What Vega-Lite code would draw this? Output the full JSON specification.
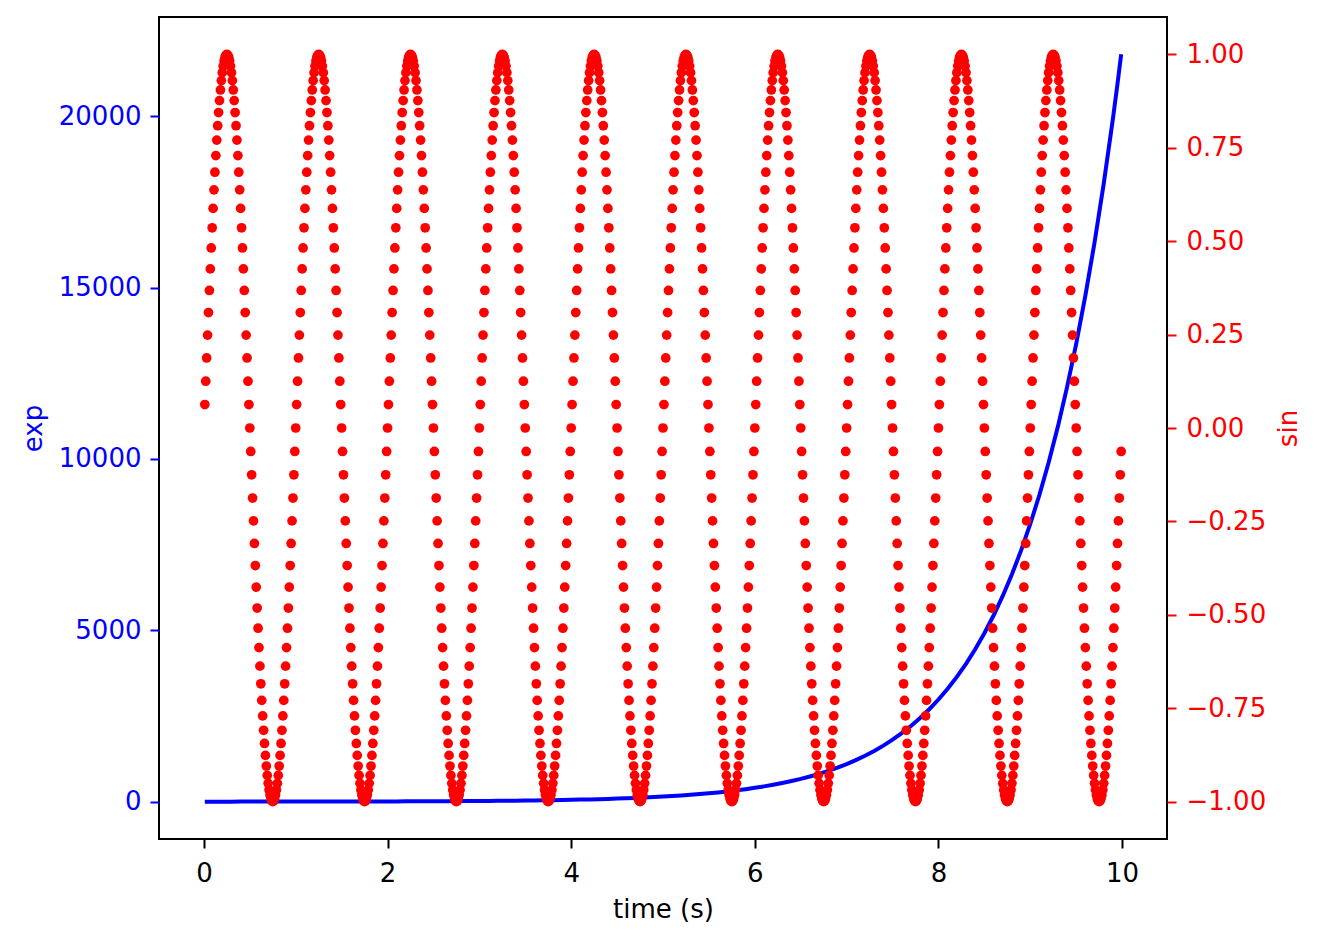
{
"$schema": "https://vega.github.io/schema/vega-lite/v6.json",
"width": 1008,
"height": 822,
"autosize": {"type": "none"},
"padding": {"left": 159, "top": 17, "right": 156, "bottom": 101},
"background": "white",
"config": {
"font": "DejaVu Sans",
"view": {"stroke": "black", "strokeWidth": 2},
"axis": {"grid": false, "domain": false, "labelFontSize": 26, "titleFontSize": 26, "titleFontWeight": "normal", "tickSize": 9, "tickWidth": 2, "labelFont": "DejaVu Sans", "titleFont": "DejaVu Sans"}
},
"datasets": {
"expdata": [
{"t":0.01,"e":1.01},{"t":0.1,"e":1.11},{"t":0.2,"e":1.22},{"t":0.3,"e":1.35},{"t":0.4,"e":1.49},{"t":0.5,"e":1.65},{"t":0.6,"e":1.82},{"t":0.7,"e":2.01},{"t":0.8,"e":2.23},{"t":0.9,"e":2.46},
{"t":1.0,"e":2.72},{"t":1.1,"e":3.00},{"t":1.2,"e":3.32},{"t":1.3,"e":3.67},{"t":1.4,"e":4.06},{"t":1.5,"e":4.48},{"t":1.6,"e":4.95},{"t":1.7,"e":5.47},{"t":1.8,"e":6.05},{"t":1.9,"e":6.69},
{"t":2.0,"e":7.39},{"t":2.1,"e":8.17},{"t":2.2,"e":9.03},{"t":2.3,"e":9.97},{"t":2.4,"e":11.02},{"t":2.5,"e":12.18},{"t":2.6,"e":13.46},{"t":2.7,"e":14.88},{"t":2.8,"e":16.44},{"t":2.9,"e":18.17},
{"t":3.0,"e":20.09},{"t":3.1,"e":22.20},{"t":3.2,"e":24.53},{"t":3.3,"e":27.11},{"t":3.4,"e":29.96},{"t":3.5,"e":33.12},{"t":3.6,"e":36.60},{"t":3.7,"e":40.45},{"t":3.8,"e":44.70},{"t":3.9,"e":49.40},
{"t":4.0,"e":54.60},{"t":4.1,"e":60.34},{"t":4.2,"e":66.69},{"t":4.3,"e":73.70},{"t":4.4,"e":81.45},{"t":4.5,"e":90.02},{"t":4.6,"e":99.48},{"t":4.7,"e":109.95},{"t":4.8,"e":121.51},{"t":4.9,"e":134.29},
{"t":5.0,"e":148.41},{"t":5.1,"e":164.02},{"t":5.2,"e":181.27},{"t":5.3,"e":200.34},{"t":5.4,"e":221.41},{"t":5.5,"e":244.69},{"t":5.6,"e":270.43},{"t":5.7,"e":298.87},{"t":5.8,"e":330.30},{"t":5.9,"e":365.04},
{"t":6.0,"e":403.43},{"t":6.1,"e":445.86},{"t":6.2,"e":492.75},{"t":6.3,"e":544.57},{"t":6.4,"e":601.85},{"t":6.5,"e":665.14},{"t":6.6,"e":735.10},{"t":6.7,"e":812.41},{"t":6.8,"e":897.85},{"t":6.9,"e":992.27},
{"t":7.0,"e":1096.63},{"t":7.1,"e":1211.97},{"t":7.2,"e":1339.43},{"t":7.3,"e":1480.30},{"t":7.4,"e":1635.98},{"t":7.5,"e":1808.04},{"t":7.6,"e":1998.20},{"t":7.7,"e":2208.35},{"t":7.8,"e":2440.60},{"t":7.9,"e":2697.28},
{"t":8.0,"e":2980.96},{"t":8.1,"e":3294.47},{"t":8.2,"e":3640.95},{"t":8.3,"e":4023.87},{"t":8.4,"e":4447.07},{"t":8.5,"e":4914.77},{"t":8.6,"e":5431.66},{"t":8.7,"e":6002.91},{"t":8.8,"e":6634.24},{"t":8.9,"e":7331.97},
{"t":9.0,"e":8103.08},{"t":9.1,"e":8955.29},{"t":9.2,"e":9897.13},{"t":9.3,"e":10938.02},{"t":9.4,"e":12088.38},{"t":9.5,"e":13359.73},{"t":9.6,"e":14764.78},{"t":9.7,"e":16317.61},{"t":9.8,"e":18033.74},{"t":9.9,"e":19930.37},{"t":9.95,"e":20952.2},{"t":9.99,"e":21807.3}
],
"sindata": [
{"t":0.01,"s":0.0628},{"t":0.02,"s":0.1253},{"t":0.03,"s":0.1874},{"t":0.04,"s":0.2487},{"t":0.05,"s":0.309},{"t":0.06,"s":0.3681},{"t":0.07,"s":0.4258},{"t":0.08,"s":0.4818},{"t":0.09,"s":0.5358},{"t":0.10,"s":0.5878},{"t":0.11,"s":0.6374},{"t":0.12,"s":0.6845},{"t":0.13,"s":0.729},{"t":0.14,"s":0.7705},{"t":0.15,"s":0.809},{"t":0.16,"s":0.8443},{"t":0.17,"s":0.8763},{"t":0.18,"s":0.9048},{"t":0.19,"s":0.9298},{"t":0.20,"s":0.9511},{"t":0.21,"s":0.9686},{"t":0.22,"s":0.9823},{"t":0.23,"s":0.9921},{"t":0.24,"s":0.998},{"t":0.25,"s":1},{"t":0.26,"s":0.998},{"t":0.27,"s":0.9921},{"t":0.28,"s":0.9823},{"t":0.29,"s":0.9686},{"t":0.30,"s":0.9511},{"t":0.31,"s":0.9298},{"t":0.32,"s":0.9048},{"t":0.33,"s":0.8763},{"t":0.34,"s":0.8443},{"t":0.35,"s":0.809},{"t":0.36,"s":0.7705},{"t":0.37,"s":0.729},{"t":0.38,"s":0.6845},{"t":0.39,"s":0.6374},{"t":0.40,"s":0.5878},{"t":0.41,"s":0.5358},{"t":0.42,"s":0.4818},{"t":0.43,"s":0.4258},{"t":0.44,"s":0.3681},{"t":0.45,"s":0.309},{"t":0.46,"s":0.2487},{"t":0.47,"s":0.1874},{"t":0.48,"s":0.1253},{"t":0.49,"s":0.0628},{"t":0.50,"s":0},{"t":0.51,"s":-0.0628},{"t":0.52,"s":-0.1253},{"t":0.53,"s":-0.1874},{"t":0.54,"s":-0.2487},{"t":0.55,"s":-0.309},{"t":0.56,"s":-0.3681},{"t":0.57,"s":-0.4258},{"t":0.58,"s":-0.4818},{"t":0.59,"s":-0.5358},{"t":0.60,"s":-0.5878},{"t":0.61,"s":-0.6374},{"t":0.62,"s":-0.6845},{"t":0.63,"s":-0.729},{"t":0.64,"s":-0.7705},{"t":0.65,"s":-0.809},{"t":0.66,"s":-0.8443},{"t":0.67,"s":-0.8763},{"t":0.68,"s":-0.9048},{"t":0.69,"s":-0.9298},{"t":0.70,"s":-0.9511},{"t":0.71,"s":-0.9686},{"t":0.72,"s":-0.9823},{"t":0.73,"s":-0.9921},{"t":0.74,"s":-0.998},{"t":0.75,"s":-1},{"t":0.76,"s":-0.998},{"t":0.77,"s":-0.9921},{"t":0.78,"s":-0.9823},{"t":0.79,"s":-0.9686},{"t":0.80,"s":-0.9511},{"t":0.81,"s":-0.9298},{"t":0.82,"s":-0.9048},{"t":0.83,"s":-0.8763},{"t":0.84,"s":-0.8443},{"t":0.85,"s":-0.809},{"t":0.86,"s":-0.7705},{"t":0.87,"s":-0.729},{"t":0.88,"s":-0.6845},{"t":0.89,"s":-0.6374},{"t":0.90,"s":-0.5878},{"t":0.91,"s":-0.5358},{"t":0.92,"s":-0.4818},{"t":0.93,"s":-0.4258},{"t":0.94,"s":-0.3681},{"t":0.95,"s":-0.309},{"t":0.96,"s":-0.2487},{"t":0.97,"s":-0.1874},{"t":0.98,"s":-0.1253},{"t":0.99,"s":-0.0628},
{"t":1.00,"s":0},{"t":1.01,"s":0.0628},{"t":1.02,"s":0.1253},{"t":1.03,"s":0.1874},{"t":1.04,"s":0.2487},{"t":1.05,"s":0.309},{"t":1.06,"s":0.3681},{"t":1.07,"s":0.4258},{"t":1.08,"s":0.4818},{"t":1.09,"s":0.5358},{"t":1.10,"s":0.5878},{"t":1.11,"s":0.6374},{"t":1.12,"s":0.6845},{"t":1.13,"s":0.729},{"t":1.14,"s":0.7705},{"t":1.15,"s":0.809},{"t":1.16,"s":0.8443},{"t":1.17,"s":0.8763},{"t":1.18,"s":0.9048},{"t":1.19,"s":0.9298},{"t":1.20,"s":0.9511},{"t":1.21,"s":0.9686},{"t":1.22,"s":0.9823},{"t":1.23,"s":0.9921},{"t":1.24,"s":0.998},{"t":1.25,"s":1},{"t":1.26,"s":0.998},{"t":1.27,"s":0.9921},{"t":1.28,"s":0.9823},{"t":1.29,"s":0.9686},{"t":1.30,"s":0.9511},{"t":1.31,"s":0.9298},{"t":1.32,"s":0.9048},{"t":1.33,"s":0.8763},{"t":1.34,"s":0.8443},{"t":1.35,"s":0.809},{"t":1.36,"s":0.7705},{"t":1.37,"s":0.729},{"t":1.38,"s":0.6845},{"t":1.39,"s":0.6374},{"t":1.40,"s":0.5878},{"t":1.41,"s":0.5358},{"t":1.42,"s":0.4818},{"t":1.43,"s":0.4258},{"t":1.44,"s":0.3681},{"t":1.45,"s":0.309},{"t":1.46,"s":0.2487},{"t":1.47,"s":0.1874},{"t":1.48,"s":0.1253},{"t":1.49,"s":0.0628},{"t":1.50,"s":0},{"t":1.51,"s":-0.0628},{"t":1.52,"s":-0.1253},{"t":1.53,"s":-0.1874},{"t":1.54,"s":-0.2487},{"t":1.55,"s":-0.309},{"t":1.56,"s":-0.3681},{"t":1.57,"s":-0.4258},{"t":1.58,"s":-0.4818},{"t":1.59,"s":-0.5358},{"t":1.60,"s":-0.5878},{"t":1.61,"s":-0.6374},{"t":1.62,"s":-0.6845},{"t":1.63,"s":-0.729},{"t":1.64,"s":-0.7705},{"t":1.65,"s":-0.809},{"t":1.66,"s":-0.8443},{"t":1.67,"s":-0.8763},{"t":1.68,"s":-0.9048},{"t":1.69,"s":-0.9298},{"t":1.70,"s":-0.9511},{"t":1.71,"s":-0.9686},{"t":1.72,"s":-0.9823},{"t":1.73,"s":-0.9921},{"t":1.74,"s":-0.998},{"t":1.75,"s":-1},{"t":1.76,"s":-0.998},{"t":1.77,"s":-0.9921},{"t":1.78,"s":-0.9823},{"t":1.79,"s":-0.9686},{"t":1.80,"s":-0.9511},{"t":1.81,"s":-0.9298},{"t":1.82,"s":-0.9048},{"t":1.83,"s":-0.8763},{"t":1.84,"s":-0.8443},{"t":1.85,"s":-0.809},{"t":1.86,"s":-0.7705},{"t":1.87,"s":-0.729},{"t":1.88,"s":-0.6845},{"t":1.89,"s":-0.6374},{"t":1.90,"s":-0.5878},{"t":1.91,"s":-0.5358},{"t":1.92,"s":-0.4818},{"t":1.93,"s":-0.4258},{"t":1.94,"s":-0.3681},{"t":1.95,"s":-0.309},{"t":1.96,"s":-0.2487},{"t":1.97,"s":-0.1874},{"t":1.98,"s":-0.1253},{"t":1.99,"s":-0.0628},
{"t":2.00,"s":0},{"t":2.01,"s":0.0628},{"t":2.02,"s":0.1253},{"t":2.03,"s":0.1874},{"t":2.04,"s":0.2487},{"t":2.05,"s":0.309},{"t":2.06,"s":0.3681},{"t":2.07,"s":0.4258},{"t":2.08,"s":0.4818},{"t":2.09,"s":0.5358},{"t":2.10,"s":0.5878},{"t":2.11,"s":0.6374},{"t":2.12,"s":0.6845},{"t":2.13,"s":0.729},{"t":2.14,"s":0.7705},{"t":2.15,"s":0.809},{"t":2.16,"s":0.8443},{"t":2.17,"s":0.8763},{"t":2.18,"s":0.9048},{"t":2.19,"s":0.9298},{"t":2.20,"s":0.9511},{"t":2.21,"s":0.9686},{"t":2.22,"s":0.9823},{"t":2.23,"s":0.9921},{"t":2.24,"s":0.998},{"t":2.25,"s":1},{"t":2.26,"s":0.998},{"t":2.27,"s":0.9921},{"t":2.28,"s":0.9823},{"t":2.29,"s":0.9686},{"t":2.30,"s":0.9511},{"t":2.31,"s":0.9298},{"t":2.32,"s":0.9048},{"t":2.33,"s":0.8763},{"t":2.34,"s":0.8443},{"t":2.35,"s":0.809},{"t":2.36,"s":0.7705},{"t":2.37,"s":0.729},{"t":2.38,"s":0.6845},{"t":2.39,"s":0.6374},{"t":2.40,"s":0.5878},{"t":2.41,"s":0.5358},{"t":2.42,"s":0.4818},{"t":2.43,"s":0.4258},{"t":2.44,"s":0.3681},{"t":2.45,"s":0.309},{"t":2.46,"s":0.2487},{"t":2.47,"s":0.1874},{"t":2.48,"s":0.1253},{"t":2.49,"s":0.0628},{"t":2.50,"s":0},{"t":2.51,"s":-0.0628},{"t":2.52,"s":-0.1253},{"t":2.53,"s":-0.1874},{"t":2.54,"s":-0.2487},{"t":2.55,"s":-0.309},{"t":2.56,"s":-0.3681},{"t":2.57,"s":-0.4258},{"t":2.58,"s":-0.4818},{"t":2.59,"s":-0.5358},{"t":2.60,"s":-0.5878},{"t":2.61,"s":-0.6374},{"t":2.62,"s":-0.6845},{"t":2.63,"s":-0.729},{"t":2.64,"s":-0.7705},{"t":2.65,"s":-0.809},{"t":2.66,"s":-0.8443},{"t":2.67,"s":-0.8763},{"t":2.68,"s":-0.9048},{"t":2.69,"s":-0.9298},{"t":2.70,"s":-0.9511},{"t":2.71,"s":-0.9686},{"t":2.72,"s":-0.9823},{"t":2.73,"s":-0.9921},{"t":2.74,"s":-0.998},{"t":2.75,"s":-1},{"t":2.76,"s":-0.998},{"t":2.77,"s":-0.9921},{"t":2.78,"s":-0.9823},{"t":2.79,"s":-0.9686},{"t":2.80,"s":-0.9511},{"t":2.81,"s":-0.9298},{"t":2.82,"s":-0.9048},{"t":2.83,"s":-0.8763},{"t":2.84,"s":-0.8443},{"t":2.85,"s":-0.809},{"t":2.86,"s":-0.7705},{"t":2.87,"s":-0.729},{"t":2.88,"s":-0.6845},{"t":2.89,"s":-0.6374},{"t":2.90,"s":-0.5878},{"t":2.91,"s":-0.5358},{"t":2.92,"s":-0.4818},{"t":2.93,"s":-0.4258},{"t":2.94,"s":-0.3681},{"t":2.95,"s":-0.309},{"t":2.96,"s":-0.2487},{"t":2.97,"s":-0.1874},{"t":2.98,"s":-0.1253},{"t":2.99,"s":-0.0628},
{"t":3.00,"s":0},{"t":3.01,"s":0.0628},{"t":3.02,"s":0.1253},{"t":3.03,"s":0.1874},{"t":3.04,"s":0.2487},{"t":3.05,"s":0.309},{"t":3.06,"s":0.3681},{"t":3.07,"s":0.4258},{"t":3.08,"s":0.4818},{"t":3.09,"s":0.5358},{"t":3.10,"s":0.5878},{"t":3.11,"s":0.6374},{"t":3.12,"s":0.6845},{"t":3.13,"s":0.729},{"t":3.14,"s":0.7705},{"t":3.15,"s":0.809},{"t":3.16,"s":0.8443},{"t":3.17,"s":0.8763},{"t":3.18,"s":0.9048},{"t":3.19,"s":0.9298},{"t":3.20,"s":0.9511},{"t":3.21,"s":0.9686},{"t":3.22,"s":0.9823},{"t":3.23,"s":0.9921},{"t":3.24,"s":0.998},{"t":3.25,"s":1},{"t":3.26,"s":0.998},{"t":3.27,"s":0.9921},{"t":3.28,"s":0.9823},{"t":3.29,"s":0.9686},{"t":3.30,"s":0.9511},{"t":3.31,"s":0.9298},{"t":3.32,"s":0.9048},{"t":3.33,"s":0.8763},{"t":3.34,"s":0.8443},{"t":3.35,"s":0.809},{"t":3.36,"s":0.7705},{"t":3.37,"s":0.729},{"t":3.38,"s":0.6845},{"t":3.39,"s":0.6374},{"t":3.40,"s":0.5878},{"t":3.41,"s":0.5358},{"t":3.42,"s":0.4818},{"t":3.43,"s":0.4258},{"t":3.44,"s":0.3681},{"t":3.45,"s":0.309},{"t":3.46,"s":0.2487},{"t":3.47,"s":0.1874},{"t":3.48,"s":0.1253},{"t":3.49,"s":0.0628},{"t":3.50,"s":0},{"t":3.51,"s":-0.0628},{"t":3.52,"s":-0.1253},{"t":3.53,"s":-0.1874},{"t":3.54,"s":-0.2487},{"t":3.55,"s":-0.309},{"t":3.56,"s":-0.3681},{"t":3.57,"s":-0.4258},{"t":3.58,"s":-0.4818},{"t":3.59,"s":-0.5358},{"t":3.60,"s":-0.5878},{"t":3.61,"s":-0.6374},{"t":3.62,"s":-0.6845},{"t":3.63,"s":-0.729},{"t":3.64,"s":-0.7705},{"t":3.65,"s":-0.809},{"t":3.66,"s":-0.8443},{"t":3.67,"s":-0.8763},{"t":3.68,"s":-0.9048},{"t":3.69,"s":-0.9298},{"t":3.70,"s":-0.9511},{"t":3.71,"s":-0.9686},{"t":3.72,"s":-0.9823},{"t":3.73,"s":-0.9921},{"t":3.74,"s":-0.998},{"t":3.75,"s":-1},{"t":3.76,"s":-0.998},{"t":3.77,"s":-0.9921},{"t":3.78,"s":-0.9823},{"t":3.79,"s":-0.9686},{"t":3.80,"s":-0.9511},{"t":3.81,"s":-0.9298},{"t":3.82,"s":-0.9048},{"t":3.83,"s":-0.8763},{"t":3.84,"s":-0.8443},{"t":3.85,"s":-0.809},{"t":3.86,"s":-0.7705},{"t":3.87,"s":-0.729},{"t":3.88,"s":-0.6845},{"t":3.89,"s":-0.6374},{"t":3.90,"s":-0.5878},{"t":3.91,"s":-0.5358},{"t":3.92,"s":-0.4818},{"t":3.93,"s":-0.4258},{"t":3.94,"s":-0.3681},{"t":3.95,"s":-0.309},{"t":3.96,"s":-0.2487},{"t":3.97,"s":-0.1874},{"t":3.98,"s":-0.1253},{"t":3.99,"s":-0.0628},
{"t":4.00,"s":0},{"t":4.01,"s":0.0628},{"t":4.02,"s":0.1253},{"t":4.03,"s":0.1874},{"t":4.04,"s":0.2487},{"t":4.05,"s":0.309},{"t":4.06,"s":0.3681},{"t":4.07,"s":0.4258},{"t":4.08,"s":0.4818},{"t":4.09,"s":0.5358},{"t":4.10,"s":0.5878},{"t":4.11,"s":0.6374},{"t":4.12,"s":0.6845},{"t":4.13,"s":0.729},{"t":4.14,"s":0.7705},{"t":4.15,"s":0.809},{"t":4.16,"s":0.8443},{"t":4.17,"s":0.8763},{"t":4.18,"s":0.9048},{"t":4.19,"s":0.9298},{"t":4.20,"s":0.9511},{"t":4.21,"s":0.9686},{"t":4.22,"s":0.9823},{"t":4.23,"s":0.9921},{"t":4.24,"s":0.998},{"t":4.25,"s":1},{"t":4.26,"s":0.998},{"t":4.27,"s":0.9921},{"t":4.28,"s":0.9823},{"t":4.29,"s":0.9686},{"t":4.30,"s":0.9511},{"t":4.31,"s":0.9298},{"t":4.32,"s":0.9048},{"t":4.33,"s":0.8763},{"t":4.34,"s":0.8443},{"t":4.35,"s":0.809},{"t":4.36,"s":0.7705},{"t":4.37,"s":0.729},{"t":4.38,"s":0.6845},{"t":4.39,"s":0.6374},{"t":4.40,"s":0.5878},{"t":4.41,"s":0.5358},{"t":4.42,"s":0.4818},{"t":4.43,"s":0.4258},{"t":4.44,"s":0.3681},{"t":4.45,"s":0.309},{"t":4.46,"s":0.2487},{"t":4.47,"s":0.1874},{"t":4.48,"s":0.1253},{"t":4.49,"s":0.0628},{"t":4.50,"s":0},{"t":4.51,"s":-0.0628},{"t":4.52,"s":-0.1253},{"t":4.53,"s":-0.1874},{"t":4.54,"s":-0.2487},{"t":4.55,"s":-0.309},{"t":4.56,"s":-0.3681},{"t":4.57,"s":-0.4258},{"t":4.58,"s":-0.4818},{"t":4.59,"s":-0.5358},{"t":4.60,"s":-0.5878},{"t":4.61,"s":-0.6374},{"t":4.62,"s":-0.6845},{"t":4.63,"s":-0.729},{"t":4.64,"s":-0.7705},{"t":4.65,"s":-0.809},{"t":4.66,"s":-0.8443},{"t":4.67,"s":-0.8763},{"t":4.68,"s":-0.9048},{"t":4.69,"s":-0.9298},{"t":4.70,"s":-0.9511},{"t":4.71,"s":-0.9686},{"t":4.72,"s":-0.9823},{"t":4.73,"s":-0.9921},{"t":4.74,"s":-0.998},{"t":4.75,"s":-1},{"t":4.76,"s":-0.998},{"t":4.77,"s":-0.9921},{"t":4.78,"s":-0.9823},{"t":4.79,"s":-0.9686},{"t":4.80,"s":-0.9511},{"t":4.81,"s":-0.9298},{"t":4.82,"s":-0.9048},{"t":4.83,"s":-0.8763},{"t":4.84,"s":-0.8443},{"t":4.85,"s":-0.809},{"t":4.86,"s":-0.7705},{"t":4.87,"s":-0.729},{"t":4.88,"s":-0.6845},{"t":4.89,"s":-0.6374},{"t":4.90,"s":-0.5878},{"t":4.91,"s":-0.5358},{"t":4.92,"s":-0.4818},{"t":4.93,"s":-0.4258},{"t":4.94,"s":-0.3681},{"t":4.95,"s":-0.309},{"t":4.96,"s":-0.2487},{"t":4.97,"s":-0.1874},{"t":4.98,"s":-0.1253},{"t":4.99,"s":-0.0628},
{"t":5.00,"s":0},{"t":5.01,"s":0.0628},{"t":5.02,"s":0.1253},{"t":5.03,"s":0.1874},{"t":5.04,"s":0.2487},{"t":5.05,"s":0.309},{"t":5.06,"s":0.3681},{"t":5.07,"s":0.4258},{"t":5.08,"s":0.4818},{"t":5.09,"s":0.5358},{"t":5.10,"s":0.5878},{"t":5.11,"s":0.6374},{"t":5.12,"s":0.6845},{"t":5.13,"s":0.729},{"t":5.14,"s":0.7705},{"t":5.15,"s":0.809},{"t":5.16,"s":0.8443},{"t":5.17,"s":0.8763},{"t":5.18,"s":0.9048},{"t":5.19,"s":0.9298},{"t":5.20,"s":0.9511},{"t":5.21,"s":0.9686},{"t":5.22,"s":0.9823},{"t":5.23,"s":0.9921},{"t":5.24,"s":0.998},{"t":5.25,"s":1},{"t":5.26,"s":0.998},{"t":5.27,"s":0.9921},{"t":5.28,"s":0.9823},{"t":5.29,"s":0.9686},{"t":5.30,"s":0.9511},{"t":5.31,"s":0.9298},{"t":5.32,"s":0.9048},{"t":5.33,"s":0.8763},{"t":5.34,"s":0.8443},{"t":5.35,"s":0.809},{"t":5.36,"s":0.7705},{"t":5.37,"s":0.729},{"t":5.38,"s":0.6845},{"t":5.39,"s":0.6374},{"t":5.40,"s":0.5878},{"t":5.41,"s":0.5358},{"t":5.42,"s":0.4818},{"t":5.43,"s":0.4258},{"t":5.44,"s":0.3681},{"t":5.45,"s":0.309},{"t":5.46,"s":0.2487},{"t":5.47,"s":0.1874},{"t":5.48,"s":0.1253},{"t":5.49,"s":0.0628},{"t":5.50,"s":0},{"t":5.51,"s":-0.0628},{"t":5.52,"s":-0.1253},{"t":5.53,"s":-0.1874},{"t":5.54,"s":-0.2487},{"t":5.55,"s":-0.309},{"t":5.56,"s":-0.3681},{"t":5.57,"s":-0.4258},{"t":5.58,"s":-0.4818},{"t":5.59,"s":-0.5358},{"t":5.60,"s":-0.5878},{"t":5.61,"s":-0.6374},{"t":5.62,"s":-0.6845},{"t":5.63,"s":-0.729},{"t":5.64,"s":-0.7705},{"t":5.65,"s":-0.809},{"t":5.66,"s":-0.8443},{"t":5.67,"s":-0.8763},{"t":5.68,"s":-0.9048},{"t":5.69,"s":-0.9298},{"t":5.70,"s":-0.9511},{"t":5.71,"s":-0.9686},{"t":5.72,"s":-0.9823},{"t":5.73,"s":-0.9921},{"t":5.74,"s":-0.998},{"t":5.75,"s":-1},{"t":5.76,"s":-0.998},{"t":5.77,"s":-0.9921},{"t":5.78,"s":-0.9823},{"t":5.79,"s":-0.9686},{"t":5.80,"s":-0.9511},{"t":5.81,"s":-0.9298},{"t":5.82,"s":-0.9048},{"t":5.83,"s":-0.8763},{"t":5.84,"s":-0.8443},{"t":5.85,"s":-0.809},{"t":5.86,"s":-0.7705},{"t":5.87,"s":-0.729},{"t":5.88,"s":-0.6845},{"t":5.89,"s":-0.6374},{"t":5.90,"s":-0.5878},{"t":5.91,"s":-0.5358},{"t":5.92,"s":-0.4818},{"t":5.93,"s":-0.4258},{"t":5.94,"s":-0.3681},{"t":5.95,"s":-0.309},{"t":5.96,"s":-0.2487},{"t":5.97,"s":-0.1874},{"t":5.98,"s":-0.1253},{"t":5.99,"s":-0.0628},
{"t":6.00,"s":0},{"t":6.01,"s":0.0628},{"t":6.02,"s":0.1253},{"t":6.03,"s":0.1874},{"t":6.04,"s":0.2487},{"t":6.05,"s":0.309},{"t":6.06,"s":0.3681},{"t":6.07,"s":0.4258},{"t":6.08,"s":0.4818},{"t":6.09,"s":0.5358},{"t":6.10,"s":0.5878},{"t":6.11,"s":0.6374},{"t":6.12,"s":0.6845},{"t":6.13,"s":0.729},{"t":6.14,"s":0.7705},{"t":6.15,"s":0.809},{"t":6.16,"s":0.8443},{"t":6.17,"s":0.8763},{"t":6.18,"s":0.9048},{"t":6.19,"s":0.9298},{"t":6.20,"s":0.9511},{"t":6.21,"s":0.9686},{"t":6.22,"s":0.9823},{"t":6.23,"s":0.9921},{"t":6.24,"s":0.998},{"t":6.25,"s":1},{"t":6.26,"s":0.998},{"t":6.27,"s":0.9921},{"t":6.28,"s":0.9823},{"t":6.29,"s":0.9686},{"t":6.30,"s":0.9511},{"t":6.31,"s":0.9298},{"t":6.32,"s":0.9048},{"t":6.33,"s":0.8763},{"t":6.34,"s":0.8443},{"t":6.35,"s":0.809},{"t":6.36,"s":0.7705},{"t":6.37,"s":0.729},{"t":6.38,"s":0.6845},{"t":6.39,"s":0.6374},{"t":6.40,"s":0.5878},{"t":6.41,"s":0.5358},{"t":6.42,"s":0.4818},{"t":6.43,"s":0.4258},{"t":6.44,"s":0.3681},{"t":6.45,"s":0.309},{"t":6.46,"s":0.2487},{"t":6.47,"s":0.1874},{"t":6.48,"s":0.1253},{"t":6.49,"s":0.0628},{"t":6.50,"s":0},{"t":6.51,"s":-0.0628},{"t":6.52,"s":-0.1253},{"t":6.53,"s":-0.1874},{"t":6.54,"s":-0.2487},{"t":6.55,"s":-0.309},{"t":6.56,"s":-0.3681},{"t":6.57,"s":-0.4258},{"t":6.58,"s":-0.4818},{"t":6.59,"s":-0.5358},{"t":6.60,"s":-0.5878},{"t":6.61,"s":-0.6374},{"t":6.62,"s":-0.6845},{"t":6.63,"s":-0.729},{"t":6.64,"s":-0.7705},{"t":6.65,"s":-0.809},{"t":6.66,"s":-0.8443},{"t":6.67,"s":-0.8763},{"t":6.68,"s":-0.9048},{"t":6.69,"s":-0.9298},{"t":6.70,"s":-0.9511},{"t":6.71,"s":-0.9686},{"t":6.72,"s":-0.9823},{"t":6.73,"s":-0.9921},{"t":6.74,"s":-0.998},{"t":6.75,"s":-1},{"t":6.76,"s":-0.998},{"t":6.77,"s":-0.9921},{"t":6.78,"s":-0.9823},{"t":6.79,"s":-0.9686},{"t":6.80,"s":-0.9511},{"t":6.81,"s":-0.9298},{"t":6.82,"s":-0.9048},{"t":6.83,"s":-0.8763},{"t":6.84,"s":-0.8443},{"t":6.85,"s":-0.809},{"t":6.86,"s":-0.7705},{"t":6.87,"s":-0.729},{"t":6.88,"s":-0.6845},{"t":6.89,"s":-0.6374},{"t":6.90,"s":-0.5878},{"t":6.91,"s":-0.5358},{"t":6.92,"s":-0.4818},{"t":6.93,"s":-0.4258},{"t":6.94,"s":-0.3681},{"t":6.95,"s":-0.309},{"t":6.96,"s":-0.2487},{"t":6.97,"s":-0.1874},{"t":6.98,"s":-0.1253},{"t":6.99,"s":-0.0628},
{"t":7.00,"s":0},{"t":7.01,"s":0.0628},{"t":7.02,"s":0.1253},{"t":7.03,"s":0.1874},{"t":7.04,"s":0.2487},{"t":7.05,"s":0.309},{"t":7.06,"s":0.3681},{"t":7.07,"s":0.4258},{"t":7.08,"s":0.4818},{"t":7.09,"s":0.5358},{"t":7.10,"s":0.5878},{"t":7.11,"s":0.6374},{"t":7.12,"s":0.6845},{"t":7.13,"s":0.729},{"t":7.14,"s":0.7705},{"t":7.15,"s":0.809},{"t":7.16,"s":0.8443},{"t":7.17,"s":0.8763},{"t":7.18,"s":0.9048},{"t":7.19,"s":0.9298},{"t":7.20,"s":0.9511},{"t":7.21,"s":0.9686},{"t":7.22,"s":0.9823},{"t":7.23,"s":0.9921},{"t":7.24,"s":0.998},{"t":7.25,"s":1},{"t":7.26,"s":0.998},{"t":7.27,"s":0.9921},{"t":7.28,"s":0.9823},{"t":7.29,"s":0.9686},{"t":7.30,"s":0.9511},{"t":7.31,"s":0.9298},{"t":7.32,"s":0.9048},{"t":7.33,"s":0.8763},{"t":7.34,"s":0.8443},{"t":7.35,"s":0.809},{"t":7.36,"s":0.7705},{"t":7.37,"s":0.729},{"t":7.38,"s":0.6845},{"t":7.39,"s":0.6374},{"t":7.40,"s":0.5878},{"t":7.41,"s":0.5358},{"t":7.42,"s":0.4818},{"t":7.43,"s":0.4258},{"t":7.44,"s":0.3681},{"t":7.45,"s":0.309},{"t":7.46,"s":0.2487},{"t":7.47,"s":0.1874},{"t":7.48,"s":0.1253},{"t":7.49,"s":0.0628},{"t":7.50,"s":0},{"t":7.51,"s":-0.0628},{"t":7.52,"s":-0.1253},{"t":7.53,"s":-0.1874},{"t":7.54,"s":-0.2487},{"t":7.55,"s":-0.309},{"t":7.56,"s":-0.3681},{"t":7.57,"s":-0.4258},{"t":7.58,"s":-0.4818},{"t":7.59,"s":-0.5358},{"t":7.60,"s":-0.5878},{"t":7.61,"s":-0.6374},{"t":7.62,"s":-0.6845},{"t":7.63,"s":-0.729},{"t":7.64,"s":-0.7705},{"t":7.65,"s":-0.809},{"t":7.66,"s":-0.8443},{"t":7.67,"s":-0.8763},{"t":7.68,"s":-0.9048},{"t":7.69,"s":-0.9298},{"t":7.70,"s":-0.9511},{"t":7.71,"s":-0.9686},{"t":7.72,"s":-0.9823},{"t":7.73,"s":-0.9921},{"t":7.74,"s":-0.998},{"t":7.75,"s":-1},{"t":7.76,"s":-0.998},{"t":7.77,"s":-0.9921},{"t":7.78,"s":-0.9823},{"t":7.79,"s":-0.9686},{"t":7.80,"s":-0.9511},{"t":7.81,"s":-0.9298},{"t":7.82,"s":-0.9048},{"t":7.83,"s":-0.8763},{"t":7.84,"s":-0.8443},{"t":7.85,"s":-0.809},{"t":7.86,"s":-0.7705},{"t":7.87,"s":-0.729},{"t":7.88,"s":-0.6845},{"t":7.89,"s":-0.6374},{"t":7.90,"s":-0.5878},{"t":7.91,"s":-0.5358},{"t":7.92,"s":-0.4818},{"t":7.93,"s":-0.4258},{"t":7.94,"s":-0.3681},{"t":7.95,"s":-0.309},{"t":7.96,"s":-0.2487},{"t":7.97,"s":-0.1874},{"t":7.98,"s":-0.1253},{"t":7.99,"s":-0.0628},
{"t":8.00,"s":0},{"t":8.01,"s":0.0628},{"t":8.02,"s":0.1253},{"t":8.03,"s":0.1874},{"t":8.04,"s":0.2487},{"t":8.05,"s":0.309},{"t":8.06,"s":0.3681},{"t":8.07,"s":0.4258},{"t":8.08,"s":0.4818},{"t":8.09,"s":0.5358},{"t":8.10,"s":0.5878},{"t":8.11,"s":0.6374},{"t":8.12,"s":0.6845},{"t":8.13,"s":0.729},{"t":8.14,"s":0.7705},{"t":8.15,"s":0.809},{"t":8.16,"s":0.8443},{"t":8.17,"s":0.8763},{"t":8.18,"s":0.9048},{"t":8.19,"s":0.9298},{"t":8.20,"s":0.9511},{"t":8.21,"s":0.9686},{"t":8.22,"s":0.9823},{"t":8.23,"s":0.9921},{"t":8.24,"s":0.998},{"t":8.25,"s":1},{"t":8.26,"s":0.998},{"t":8.27,"s":0.9921},{"t":8.28,"s":0.9823},{"t":8.29,"s":0.9686},{"t":8.30,"s":0.9511},{"t":8.31,"s":0.9298},{"t":8.32,"s":0.9048},{"t":8.33,"s":0.8763},{"t":8.34,"s":0.8443},{"t":8.35,"s":0.809},{"t":8.36,"s":0.7705},{"t":8.37,"s":0.729},{"t":8.38,"s":0.6845},{"t":8.39,"s":0.6374},{"t":8.40,"s":0.5878},{"t":8.41,"s":0.5358},{"t":8.42,"s":0.4818},{"t":8.43,"s":0.4258},{"t":8.44,"s":0.3681},{"t":8.45,"s":0.309},{"t":8.46,"s":0.2487},{"t":8.47,"s":0.1874},{"t":8.48,"s":0.1253},{"t":8.49,"s":0.0628},{"t":8.50,"s":0},{"t":8.51,"s":-0.0628},{"t":8.52,"s":-0.1253},{"t":8.53,"s":-0.1874},{"t":8.54,"s":-0.2487},{"t":8.55,"s":-0.309},{"t":8.56,"s":-0.3681},{"t":8.57,"s":-0.4258},{"t":8.58,"s":-0.4818},{"t":8.59,"s":-0.5358},{"t":8.60,"s":-0.5878},{"t":8.61,"s":-0.6374},{"t":8.62,"s":-0.6845},{"t":8.63,"s":-0.729},{"t":8.64,"s":-0.7705},{"t":8.65,"s":-0.809},{"t":8.66,"s":-0.8443},{"t":8.67,"s":-0.8763},{"t":8.68,"s":-0.9048},{"t":8.69,"s":-0.9298},{"t":8.70,"s":-0.9511},{"t":8.71,"s":-0.9686},{"t":8.72,"s":-0.9823},{"t":8.73,"s":-0.9921},{"t":8.74,"s":-0.998},{"t":8.75,"s":-1},{"t":8.76,"s":-0.998},{"t":8.77,"s":-0.9921},{"t":8.78,"s":-0.9823},{"t":8.79,"s":-0.9686},{"t":8.80,"s":-0.9511},{"t":8.81,"s":-0.9298},{"t":8.82,"s":-0.9048},{"t":8.83,"s":-0.8763},{"t":8.84,"s":-0.8443},{"t":8.85,"s":-0.809},{"t":8.86,"s":-0.7705},{"t":8.87,"s":-0.729},{"t":8.88,"s":-0.6845},{"t":8.89,"s":-0.6374},{"t":8.90,"s":-0.5878},{"t":8.91,"s":-0.5358},{"t":8.92,"s":-0.4818},{"t":8.93,"s":-0.4258},{"t":8.94,"s":-0.3681},{"t":8.95,"s":-0.309},{"t":8.96,"s":-0.2487},{"t":8.97,"s":-0.1874},{"t":8.98,"s":-0.1253},{"t":8.99,"s":-0.0628},
{"t":9.00,"s":0},{"t":9.01,"s":0.0628},{"t":9.02,"s":0.1253},{"t":9.03,"s":0.1874},{"t":9.04,"s":0.2487},{"t":9.05,"s":0.309},{"t":9.06,"s":0.3681},{"t":9.07,"s":0.4258},{"t":9.08,"s":0.4818},{"t":9.09,"s":0.5358},{"t":9.10,"s":0.5878},{"t":9.11,"s":0.6374},{"t":9.12,"s":0.6845},{"t":9.13,"s":0.729},{"t":9.14,"s":0.7705},{"t":9.15,"s":0.809},{"t":9.16,"s":0.8443},{"t":9.17,"s":0.8763},{"t":9.18,"s":0.9048},{"t":9.19,"s":0.9298},{"t":9.20,"s":0.9511},{"t":9.21,"s":0.9686},{"t":9.22,"s":0.9823},{"t":9.23,"s":0.9921},{"t":9.24,"s":0.998},{"t":9.25,"s":1},{"t":9.26,"s":0.998},{"t":9.27,"s":0.9921},{"t":9.28,"s":0.9823},{"t":9.29,"s":0.9686},{"t":9.30,"s":0.9511},{"t":9.31,"s":0.9298},{"t":9.32,"s":0.9048},{"t":9.33,"s":0.8763},{"t":9.34,"s":0.8443},{"t":9.35,"s":0.809},{"t":9.36,"s":0.7705},{"t":9.37,"s":0.729},{"t":9.38,"s":0.6845},{"t":9.39,"s":0.6374},{"t":9.40,"s":0.5878},{"t":9.41,"s":0.5358},{"t":9.42,"s":0.4818},{"t":9.43,"s":0.4258},{"t":9.44,"s":0.3681},{"t":9.45,"s":0.309},{"t":9.46,"s":0.2487},{"t":9.47,"s":0.1874},{"t":9.48,"s":0.1253},{"t":9.49,"s":0.0628},{"t":9.50,"s":0},{"t":9.51,"s":-0.0628},{"t":9.52,"s":-0.1253},{"t":9.53,"s":-0.1874},{"t":9.54,"s":-0.2487},{"t":9.55,"s":-0.309},{"t":9.56,"s":-0.3681},{"t":9.57,"s":-0.4258},{"t":9.58,"s":-0.4818},{"t":9.59,"s":-0.5358},{"t":9.60,"s":-0.5878},{"t":9.61,"s":-0.6374},{"t":9.62,"s":-0.6845},{"t":9.63,"s":-0.729},{"t":9.64,"s":-0.7705},{"t":9.65,"s":-0.809},{"t":9.66,"s":-0.8443},{"t":9.67,"s":-0.8763},{"t":9.68,"s":-0.9048},{"t":9.69,"s":-0.9298},{"t":9.70,"s":-0.9511},{"t":9.71,"s":-0.9686},{"t":9.72,"s":-0.9823},{"t":9.73,"s":-0.9921},{"t":9.74,"s":-0.998},{"t":9.75,"s":-1},{"t":9.76,"s":-0.998},{"t":9.77,"s":-0.9921},{"t":9.78,"s":-0.9823},{"t":9.79,"s":-0.9686},{"t":9.80,"s":-0.9511},{"t":9.81,"s":-0.9298},{"t":9.82,"s":-0.9048},{"t":9.83,"s":-0.8763},{"t":9.84,"s":-0.8443},{"t":9.85,"s":-0.809},{"t":9.86,"s":-0.7705},{"t":9.87,"s":-0.729},{"t":9.88,"s":-0.6845},{"t":9.89,"s":-0.6374},{"t":9.90,"s":-0.5878},{"t":9.91,"s":-0.5358},{"t":9.92,"s":-0.4818},{"t":9.93,"s":-0.4258},{"t":9.94,"s":-0.3681},{"t":9.95,"s":-0.309},{"t":9.96,"s":-0.2487},{"t":9.97,"s":-0.1874},{"t":9.98,"s":-0.1253},{"t":9.99,"s":-0.0628}
]
},
"layer": [
{
"data": {"name": "expdata"},
"mark": {"type": "line", "color": "#0000ff", "strokeWidth": 4},
"encoding": {
"x": {"field": "t", "type": "quantitative", "scale": {"domain": [-0.489, 10.489], "nice": false, "zero": false},
"axis": {"title": "time (s)", "values": [0, 2, 4, 6, 8, 10], "format": "d", "labelColor": "black", "tickColor": "black", "titleColor": "black", "labelPadding": 12, "titlePadding": 10}},
"y": {"field": "e", "type": "quantitative", "scale": {"domain": [-1089.3, 22897.6], "nice": false, "zero": false},
"axis": {"orient": "left", "title": "exp", "values": [0, 5000, 10000, 15000, 20000], "format": "d", "labelColor": "#0000ff", "tickColor": "#0000ff", "titleColor": "#0000ff", "labelPadding": 9, "titlePadding": 12}}
}
},
{
"data": {"name": "sindata"},
"mark": {"type": "circle", "color": "#ff0000", "size": 95, "opacity": 1},
"encoding": {
"x": {"field": "t", "type": "quantitative"},
"y": {"field": "s", "type": "quantitative", "scale": {"domain": [-1.1, 1.1], "nice": false, "zero": false},
"axis": {"orient": "right", "title": "sin", "titleAngle": 270, "values": [-1, -0.75, -0.5, -0.25, 0, 0.25, 0.5, 0.75, 1], "format": ".2f", "labelColor": "#ff0000", "tickColor": "#ff0000", "titleColor": "#ff0000", "labelPadding": 10, "titlePadding": 36}}
}
}
],
"resolve": {"scale": {"y": "independent"}}
}
